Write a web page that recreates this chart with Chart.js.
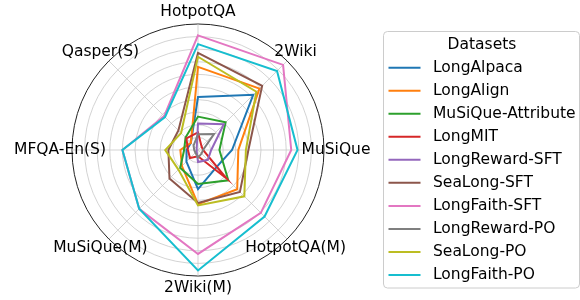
<!DOCTYPE html>
<html>
<head>
<meta charset="utf-8">
<script src="https://cdn.jsdelivr.net/npm/chart.js@4/dist/chart.umd.min.js"></script>
<style>
  body { margin: 0; background: #fff; }
  canvas { display: block; }
</style>
</head>
<body>
<canvas id="radarChart" width="580" height="300"></canvas>
<script>
// axes of the radar, clockwise from the top
const categories = ["HotpotQA", "2Wiki", "MuSiQue", "HotpotQA(M)", "2Wiki(M)", "MuSiQue(M)", "MFQA-En(S)", "Qasper(S)"];

const seriesNames = ["LongAlpaca", "LongAlign", "MuSiQue-Attribute", "LongMIT", "LongReward-SFT",
    "SeaLong-SFT", "LongFaith-SFT", "LongReward-PO", "SeaLong-PO", "LongFaith-PO"];

const longAlpaca = [42, 62, 27, 20, 31, 13, 9, 8];
const longAlign = [66, 69, 32, 44, 43, 18, 14, 8];
const musiqueAttribute = [26.5, 31, 17, 34, 27, 20, 11, 14];
const longMIT = [14, 4, 4, 32, 5, 9, 8, 13];
const longRewardSFT = [21, 29, 10.5, 11, 9.5, 1.5, 1, 1.5];
const seaLongSFT = [77, 72, 40, 47, 42, 32, 23.5, 22];
const longFaithSFT = [91, 95.5, 74, 70.5, 82.5, 66, 60, 38];
const longRewardPO = [12.5, 18, 4, 4, 6, 3, 3, 5];
const seaLongPO = [74, 65.5, 38, 52, 44, 22, 26, 19];
const longFaithPO = [84, 88.7, 79, 74.7, 95.6, 66, 60, 37];

const seriesValues = [longAlpaca, longAlign, musiqueAttribute, longMIT, longRewardSFT,
    seaLongSFT, longFaithSFT, longRewardPO, seaLongPO, longFaithPO];

// radial ticks (rings), hidden labels
const rTicks = [0, 10, 20, 30, 40, 50, 60, 70, 80, 90, 100];

const colors = ["#1f77b4", "#ff7f0e", "#2ca02c", "#d62728", "#9467bd",
    "#8c564b", "#e377c2", "#7f7f7f", "#bcbd22", "#17becf"];

const FONT = "DejaVu Sans";

let datasets = [];
for (let i = 0; i < seriesNames.length; i++) {
    datasets.push({
        label: seriesNames[i],
        data: seriesValues[i],
        borderColor: colors[i],
        backgroundColor: colors[i],
        borderWidth: 2,
        fill: false,
        pointRadius: 0,
        order: seriesNames.length - i   // last series on top, like matplotlib
    });
}

// axis labels centred just outside the outer ring
const pointLabelPlugin = {
    id: 'pointLabelPlugin',
    afterDatasetsDraw(chart) {
        const scale = chart.scales.r;
        const ctx = chart.ctx;
        ctx.save();
        ctx.font = "15.5px '" + FONT + "'";
        ctx.fillStyle = "#000";
        ctx.textAlign = "center";
        ctx.textBaseline = "middle";
        chart.data.labels.forEach((label, i) => {
            const p = scale.getPointPosition(i, scale.drawingArea + 12);
            ctx.fillText(label, p.x, p.y);
        });
        ctx.restore();
    }
};

// matplotlib-like legend box on the right
const legendPlugin = {
    id: 'legendPlugin',
    afterDraw(chart) {
        const ctx = chart.ctx;
        ctx.save();
        ctx.strokeStyle = "#cccccc";
        ctx.lineWidth = 1;
        ctx.fillStyle = "rgba(255,255,255,0.8)";
        ctx.beginPath();
        ctx.roundRect(383.5, 31.5, 196, 256.5, 4);
        ctx.fill();
        ctx.stroke();

        ctx.font = "15.5px '" + FONT + "'";
        ctx.fillStyle = "#000";
        ctx.textBaseline = "middle";
        ctx.textAlign = "center";
        ctx.fillText("Datasets", 482, 45);
        ctx.textAlign = "left";
        chart.data.datasets.forEach((ds, i) => {
            const y = 67.7 + i * 23.03;
            ctx.strokeStyle = ds.borderColor;
            ctx.lineWidth = 2;
            ctx.beginPath();
            ctx.moveTo(388.5, y);
            ctx.lineTo(420.5, y);
            ctx.stroke();
            ctx.fillText(ds.label, 433, y);
        });
        ctx.restore();
    }
};

new Chart(document.getElementById("radarChart"), {
    type: 'radar',
    data: {
        labels: categories,
        datasets: datasets
    },
    options: {
        responsive: false,
        animation: false,
        layout: {
            padding: { left: 72, right: 255, top: 24, bottom: 24 }
        },
        elements: {
            line: { tension: 0 }
        },
        plugins: {
            legend: { display: false },
            tooltip: { enabled: false }
        },
        scales: {
            r: {
                min: rTicks[0],
                max: rTicks[rTicks.length - 1],
                afterBuildTicks: (scale) => {
                    scale.ticks = rTicks.map(v => ({ value: v }));
                },
                ticks: { display: false },
                pointLabels: { display: false },
                grid: {
                    circular: true,
                    color: (c) => c.tick && c.tick.value === 100 ? "#222" : "#c8c8c8",
                    lineWidth: (c) => c.tick && c.tick.value === 100 ? 1 : 0.8
                },
                angleLines: {
                    color: "#c8c8c8",
                    lineWidth: 0.8
                }
            }
        }
    },
    plugins: [pointLabelPlugin, legendPlugin]
});
</script>
</body>
</html>
